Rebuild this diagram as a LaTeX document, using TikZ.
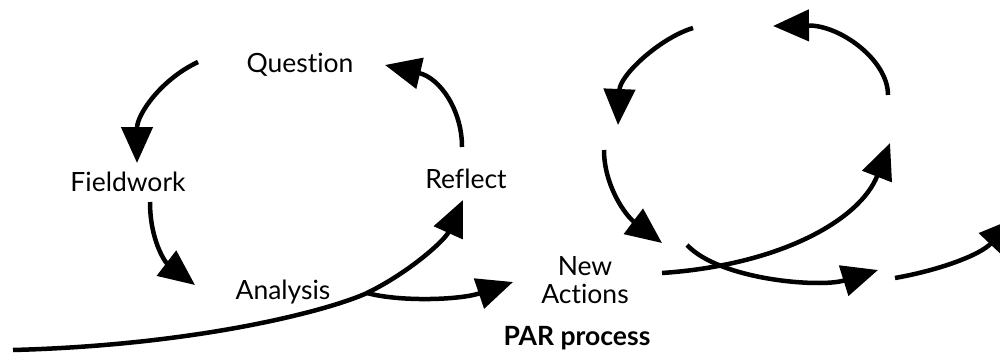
\documentclass[tikz,border=0pt]{standalone}
\usepackage{fontspec}
\setmainfont{Lato}[Ligatures=NoCommon]
\usetikzlibrary{arrows.meta}
\begin{document}
\begin{tikzpicture}[x=1pt,y=-1pt,
  lbl/.style={font=\fontsize{26.5}{28}\selectfont, inner sep=0pt, align=center},
  flow/.style={line width=4.5pt, -{Triangle[length=36pt,width=31pt]}}]
  \useasboundingbox (0,0) rectangle (1000,353);
  \clip (0,0) rectangle (1000,353);

  % stage labels
  \node[lbl] (question) at (300,65) {Question};
  \node[lbl] (fieldwork) at (128,182) {Fieldwork};
  \node[lbl] (reflect) at (466,179) {Reflect};
  \node[lbl] (analysis) at (283,292) {Analysis};
  \node[lbl] (newact) at (585,280) {New\\Actions};
  \node[lbl, font=\fontsize{26.5}{28}\selectfont\bfseries] (title) at (577,338) {PAR process};

  % anchor points of the arrows
  \coordinate (a1s) at (198,62);   \coordinate (a1e) at (137,163);
  \coordinate (a2s) at (150,202);  \coordinate (a2e) at (195,285);
  \coordinate (a3s) at (462,147);  \coordinate (a3e) at (385,65);
  \coordinate (a4s) at (13,350);   \coordinate (a4m) at (367,293);
  \coordinate (a4e) at (463,200);
  \coordinate (a5e) at (513,282);
  \coordinate (b1s) at (693,28);   \coordinate (b1e) at (618,125);
  \coordinate (b2s) at (888,95);   \coordinate (b2e) at (773,26);
  \coordinate (b3s) at (604,150);  \coordinate (b3e) at (662,243);
  \coordinate (b4s) at (662,273);  \coordinate (b4e) at (890,143);
  \coordinate (b5s) at (687,245);  \coordinate (b5e) at (878,270);
  \coordinate (b6s) at (895,278);  \coordinate (b6e) at (1015,218);

  % first cycle
  \draw[flow] (a1s) .. controls (160,80) and (137,115) .. (a1e);
  \draw[flow] (a2s) .. controls (150,240) and (165,262) .. (a2e);
  \draw[flow] (a3s) .. controls (462,110) and (440,78) .. (a3e);
  \draw[flow] (a4s) .. controls (200,345) and (330,310) .. (a4m)
                    .. controls (410,272) and (445,240) .. (a4e);
  \draw[flow] (a4m) .. controls (400,302) and (460,300) .. (a5e);

  % second cycle
  \draw[flow] (b1s) .. controls (660,38) and (620,75) .. (b1e);
  \draw[flow] (b2s) .. controls (888,60) and (840,25) .. (b2e);
  \draw[flow] (b3s) .. controls (604,185) and (625,215) .. (b3e);
  \draw[flow] (b4s) .. controls (780,265) and (860,220) .. (b4e);
  \draw[flow] (b5s) .. controls (720,280) and (820,288) .. (b5e);
  \draw[flow] (b6s) .. controls (940,270) and (980,255) .. (b6e);
\end{tikzpicture}
\end{document}
